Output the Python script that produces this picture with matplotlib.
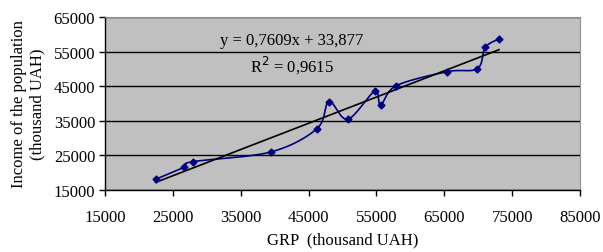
import numpy as np
import matplotlib
matplotlib.use('Agg')
import matplotlib.pyplot as plt

# data
grp = [22470, 26690, 27920, 39420, 46240, 48010, 50760, 54740, 55630,
       57930, 65440, 69860, 71040, 73060]
income = [18090, 21560, 23180, 25980, 32720, 40520, 35430, 43520, 39650,
          45150, 49200, 50060, 56240, 58640]
x_ticks = [15000, 25000, 35000, 45000, 55000, 65000, 75000, 85000]
y_ticks = [15000, 25000, 35000, 45000, 55000, 65000]
eq_text = 'y = 0,7609x + 33,877'
r2_text = 'R$^2$ = 0,9615'


def smooth(xs, ys, xr, yr, n=30):
    # Excel-like smoothed line: cubic bezier through points, done in normalized space
    px = (np.array(xs) - xr[0]) / (xr[1] - xr[0])
    py = (np.array(ys) - yr[0]) / (yr[1] - yr[0]) * 0.36
    pts = np.column_stack([px, py])
    out = [pts[0]]
    t = np.linspace(0, 1, n)[1:, None]
    for i in range(len(pts) - 1):
        p0 = pts[i - 1] if i > 0 else pts[i]
        p1 = pts[i]
        p2 = pts[i + 1]
        p3 = pts[i + 2] if i + 2 < len(pts) else pts[i + 1]
        c1 = p1 + (p2 - p0) / 6
        c2 = p2 - (p3 - p1) / 6
        seg = ((1 - t) ** 3) * p1 + 3 * ((1 - t) ** 2) * t * c1 + 3 * (1 - t) * t ** 2 * c2 + t ** 3 * p2
        out.extend(seg)
    out = np.array(out)
    sx = out[:, 0] * (xr[1] - xr[0]) + xr[0]
    sy = out[:, 1] / 0.36 * (yr[1] - yr[0]) + yr[0]
    return sx, sy


plt.rcParams['font.family'] = ['Liberation Serif']

fig = plt.figure(figsize=(6.03, 2.53), dpi=100)
ax = fig.add_axes([0.174, 0.245, 0.788, 0.684])
ax.set_facecolor('#c0c0c0')

xr = (15000, 85000)
yr = (15000, 65000)
sx, sy = smooth(grp, income, xr, yr)
ax.plot(sx, sy, color='#000080', linewidth=1.2, zorder=3)
ax.plot(grp, income, linestyle='none', marker='D', markersize=3.5,
        color='#000080', zorder=4)

k, b = np.polyfit(grp, income, 1)
tx = np.array([min(grp), max(grp)])
ax.plot(tx, k * tx + b, color='black', linewidth=1.2, zorder=3)

ax.set_xlim(xr)
ax.set_ylim(yr)
ax.set_xticks(x_ticks)
ax.set_yticks(y_ticks)
ax.yaxis.grid(True, color='black', linewidth=1)
ax.set_axisbelow(True)
ax.tick_params(axis='both', direction='out', length=4, width=1, labelsize=12,
               colors='black')
ax.tick_params(axis='x', pad=10)
ax.tick_params(axis='y', pad=3)

for s in ['top', 'right']:
    ax.spines[s].set_color('#909090')
    ax.spines[s].set_linewidth(0.8)
for s in ['left', 'bottom']:
    ax.spines[s].set_color('black')
    ax.spines[s].set_linewidth(1)

ax.text(0.394, 0.867, eq_text, transform=ax.transAxes, ha='center',
        va='center', fontsize=12)
ax.text(0.394, 0.728, r2_text, transform=ax.transAxes, ha='center',
        va='center', fontsize=12)

ax.set_xlabel('GRP  (thousand UAH)', fontsize=12, labelpad=4)
ax.set_ylabel('Income of the population\n(thousand UAH)', fontsize=12,
              labelpad=6)

fig.savefig('out.png', dpi=100)
